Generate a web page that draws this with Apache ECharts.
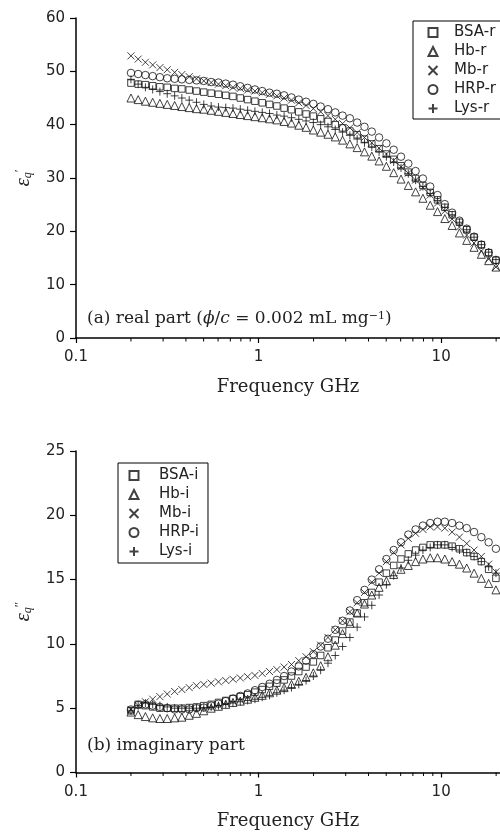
<!DOCTYPE html>
<html>
<head>
<meta charset="utf-8">
<script src="https://cdn.jsdelivr.net/npm/echarts@6/dist/echarts.min.js"></script>
<style>
  html, body { margin: 0; padding: 0; background: #fff; }
  #container { width: 500px; height: 832px; }
</style>
</head>
<body>
<div id="container"></div>
<script>
// frequencies, GHz
var freq = [0.200, 0.219, 0.240, 0.263, 0.288, 0.316, 0.347, 0.380, 0.417, 0.457,
	0.501, 0.550, 0.603, 0.661, 0.724, 0.794, 0.871, 0.955, 1.047, 1.148,
	1.259, 1.380, 1.514, 1.660, 1.820, 1.995, 2.188, 2.399, 2.630, 2.884,
	3.162, 3.467, 3.802, 4.169, 4.571, 5.012, 5.495, 6.026, 6.607, 7.244,
	7.943, 8.710, 9.550, 10.47, 11.48, 12.59, 13.80, 15.14, 16.60, 18.20,
	19.95];

// (a) real part
var bsaR = [47.8, 47.6, 47.5, 47.3, 47.1, 47.0, 46.8, 46.7, 46.5, 46.3,
	46.1, 45.9, 45.7, 45.5, 45.3, 45.0, 44.7, 44.4, 44.1, 43.8,
	43.5, 43.1, 42.8, 42.4, 42.0, 41.6, 41.1, 40.6, 40.0, 39.4,
	38.8, 38.1, 37.3, 36.4, 35.5, 34.5, 33.5, 32.3, 31.1, 29.9,
	28.6, 27.3, 25.9, 24.5, 23.1, 21.7, 20.3, 18.9, 17.5, 16.0,
	14.6];
var hbR = [45.0, 44.7, 44.4, 44.2, 44.0, 43.8, 43.6, 43.4, 43.2, 43.0,
	42.9, 42.7, 42.5, 42.3, 42.1, 41.9, 41.7, 41.5, 41.3, 41.1,
	40.9, 40.6, 40.3, 39.9, 39.5, 39.0, 38.6, 38.2, 37.7, 37.1,
	36.4, 35.7, 34.9, 34.1, 33.2, 32.2, 31.0, 29.8, 28.6, 27.4,
	26.2, 24.9, 23.7, 22.4, 21.1, 19.7, 18.3, 17.0, 15.7, 14.5,
	13.3];
var mbR = [52.9, 52.3, 51.7, 51.2, 50.7, 50.3, 49.8, 49.4, 49.0, 48.6,
	48.2, 47.9, 47.6, 47.3, 47.0, 46.8, 46.5, 46.3, 46.0, 45.7,
	45.4, 45.0, 44.6, 44.1, 43.6, 43.0, 42.4, 41.7, 41.0, 40.2,
	39.4, 38.5, 37.6, 36.6, 35.6, 34.5, 33.3, 32.1, 30.9, 29.6,
	28.2, 26.8, 25.3, 23.8, 22.3, 20.8, 19.3, 17.8, 16.3, 14.8,
	13.3];
var hrpR = [49.7, 49.5, 49.3, 49.1, 48.9, 48.7, 48.6, 48.5, 48.4, 48.3,
	48.2, 48.0, 47.9, 47.7, 47.5, 47.2, 46.9, 46.6, 46.3, 46.0,
	45.8, 45.5, 45.1, 44.7, 44.3, 43.9, 43.4, 42.9, 42.3, 41.7,
	41.2, 40.4, 39.6, 38.7, 37.6, 36.5, 35.3, 34.0, 32.7, 31.3,
	29.9, 28.4, 26.8, 25.1, 23.5, 22.0, 20.5, 19.0, 17.5, 16.0,
	14.6];
var lysR = [48.5, 47.6, 47.0, 46.6, 46.2, 45.8, 45.4, 45.0, 44.6, 44.2,
	43.8, 43.5, 43.3, 43.2, 43.1, 42.9, 42.7, 42.5, 42.3, 42.1,
	41.8, 41.6, 41.3, 41.0, 40.7, 40.4, 40.0, 39.6, 39.1, 38.6,
	38.0, 37.3, 36.6, 35.8, 34.9, 34.0, 33.0, 31.9, 30.8, 29.6,
	28.4, 27.1, 25.8, 24.5, 23.1, 21.7, 20.3, 18.9, 17.5, 16.1,
	14.7];

// (b) imaginary part
var bsaI = [4.8, 5.3, 5.2, 5.1, 5.0, 5.0, 5.0, 5.0, 5.05, 5.1,
	5.2, 5.3, 5.45, 5.6, 5.75, 5.9, 6.05, 6.25, 6.45, 6.7,
	6.95, 7.2, 7.5, 7.85, 8.2, 8.6, 9.1, 9.7, 10.3, 11.0,
	11.7, 12.4, 13.2, 14.0, 14.8, 15.5, 16.1, 16.6, 17.0, 17.3,
	17.5, 17.7, 17.7, 17.7, 17.6, 17.4, 17.1, 16.8, 16.4, 15.8,
	15.1];
var hbI = [4.7, 4.5, 4.35, 4.25, 4.2, 4.2, 4.25, 4.3, 4.45, 4.6,
	4.8, 5.0, 5.15, 5.3, 5.45, 5.55, 5.7, 5.85, 6.0, 6.2,
	6.4, 6.6, 6.85, 7.1, 7.4, 7.75, 8.3, 9.0, 9.9, 10.8,
	11.6, 12.4, 13.1, 13.8, 14.4, 14.9, 15.4, 15.8, 16.1, 16.4,
	16.6, 16.7, 16.7, 16.6, 16.4, 16.2, 15.9, 15.5, 15.1, 14.7,
	14.2];
var mbI = [4.9, 5.2, 5.5, 5.7, 5.9, 6.1, 6.3, 6.45, 6.6, 6.75,
	6.85, 6.95, 7.05, 7.15, 7.25, 7.35, 7.45, 7.55, 7.7, 7.85,
	8.0, 8.2, 8.4, 8.7, 9.0, 9.4, 9.9, 10.5, 11.1, 11.8,
	12.5, 13.2, 14.0, 14.8, 15.5, 16.4, 17.1, 17.7, 18.2, 18.6,
	18.9, 19.1, 19.1, 19.0, 18.7, 18.3, 17.8, 17.3, 16.8, 16.2,
	15.6];
var hrpI = [4.9, 5.25, 5.3, 5.2, 5.1, 5.0, 4.9, 4.9, 4.9, 5.0,
	5.05, 5.2, 5.35, 5.55, 5.75, 5.95, 6.15, 6.4, 6.65, 6.9,
	7.2, 7.5, 7.85, 8.25, 8.7, 9.2, 9.8, 10.4, 11.1, 11.8,
	12.6, 13.4, 14.2, 15.0, 15.8, 16.6, 17.3, 17.9, 18.5, 18.9,
	19.2, 19.4, 19.5, 19.5, 19.4, 19.2, 19.0, 18.7, 18.3, 17.9,
	17.4];
var lysI = [4.8, 5.2, 5.4, 5.3, 5.2, 5.1, 5.0, 5.0, 5.0, 5.0,
	5.05, 5.1, 5.2, 5.3, 5.4, 5.5, 5.6, 5.7, 5.85, 6.0,
	6.2, 6.4, 6.6, 6.85, 7.15, 7.5, 7.95, 8.5, 9.1, 9.8,
	10.5, 11.3, 12.1, 13.0, 13.8, 14.6, 15.3, 15.9, 16.5, 16.9,
	17.3, 17.5, 17.7, 17.7, 17.5, 17.3, 17.1, 16.8, 16.4, 16.0,
	15.5];

var majorTicks = [0.1, 1, 10];
var minorTicks = [0.2, 0.3, 0.4, 0.5, 0.6, 0.7, 0.8, 0.9, 2, 3, 4, 5, 6, 7, 8, 9, 20];

var realNames = ['BSA-r', 'Hb-r', 'Mb-r', 'HRP-r', 'Lys-r'];
var imagNames = ['BSA-i', 'Hb-i', 'Mb-i', 'HRP-i', 'Lys-i'];

var markers = [
	{ symbol: 'rect', size: 6.5 },
	{ symbol: 'triangle', size: 8 },
	{ symbol: 'path://M0,0L10,10M10,0L0,10', size: 7 },
	{ symbol: 'circle', size: 7.5 },
	{ symbol: 'path://M5,0L5,10M0,5L10,5', size: 8 }
];

function pairs(values) {
	return freq.map(function (f, i) { return [f, values[i]]; });
}

function makeSeries(names, sets, axisIdx) {
	return names.map(function (name, i) {
		return {
			name: name,
			type: 'scatter',
			xAxisIndex: axisIdx,
			yAxisIndex: axisIdx,
			symbol: markers[i].symbol,
			symbolSize: markers[i].size,
			itemStyle: { color: 'rgba(0,0,0,0)', borderColor: '#111', borderWidth: 1 },
			emphasis: { disabled: true },
			data: pairs(sets[i])
		};
	});
}

// short 2..9 ticks under the log axis, placed through the axis scale
function minorTickSeries(axisIdx) {
	return {
		type: 'custom',
		xAxisIndex: axisIdx,
		yAxisIndex: axisIdx,
		clip: false,
		silent: true,
		data: minorTicks.map(function (v) { return [v, 0]; }),
		renderItem: function (params, api) {
			var p = api.coord([api.value(0), 0]);
			return {
				type: 'line',
				shape: { x1: p[0], y1: p[1], x2: p[0], y2: p[1] + 3.5 },
				style: { stroke: '#000', lineWidth: 1 }
			};
		}
	};
}

var sansFont = 'DejaVu Sans';
var serifFont = 'DejaVu Serif';

function xAxis(gridIndex) {
	return {
		type: 'log', logBase: 10, gridIndex: gridIndex, min: 0.1, max: 21, interval: 1,
		position: 'bottom',
		name: 'Frequency GHz', nameLocation: 'middle', nameGap: 40,
		nameTextStyle: { fontFamily: serifFont, fontSize: 18, color: '#222' },
		axisLine: { lineStyle: { color: '#000', width: 1.5 } },
		axisTick: { inside: false, length: 5, customValues: majorTicks, lineStyle: { color: '#000', width: 1.2 } },
		axisLabel: {
			customValues: majorTicks, margin: 12, fontFamily: sansFont, fontSize: 15, color: '#222',
			formatter: function (v) {
				var r = Math.round(Math.log10(v) * 1000) / 1000;
				if (r === -1) return '0.1';
				if (r === 0) return '1';
				if (r === 1) return '10';
				return '';
			}
		},
		splitLine: { show: false }
	};
}

function yAxis(gridIndex, max, interval, name) {
	return {
		type: 'value', gridIndex: gridIndex, min: 0, max: max, interval: interval,
		name: name, nameLocation: 'middle', nameGap: 42,
		nameTextStyle: {
			color: '#222',
			rich: {
				e: { fontFamily: 'Liberation Serif', fontStyle: 'italic', fontSize: 21, color: '#222' },
				q: { fontFamily: 'Liberation Serif', fontStyle: 'italic', fontSize: 12, verticalAlign: 'bottom', color: '#222' },
				p: { fontFamily: 'Liberation Serif', fontSize: 13, verticalAlign: 'top', color: '#222' }
			}
		},
		axisLine: { show: true, lineStyle: { color: '#000', width: 1.5 } },
		axisTick: { show: true, length: 6, lineStyle: { color: '#000', width: 1.2 } },
		axisLabel: { margin: 11, fontFamily: sansFont, fontSize: 15, color: '#222' },
		splitLine: { show: false }
	};
}

function legend(names, left, top, padding, textPad) {
	return {
		data: names, orient: 'vertical', left: left, top: top,
		padding: padding, itemGap: 4, itemWidth: 9, itemHeight: 9,
		borderColor: '#000', borderWidth: 1, backgroundColor: '#fff',
		selectedMode: false,
		textStyle: { fontFamily: sansFont, fontSize: 15, lineHeight: 15, color: '#222', padding: [0, 0, 0, textPad] }
	};
}

var chart = echarts.init(document.getElementById('container'));

var option = {
	animation: false,
	backgroundColor: '#fff',
	grid: [
		{ left: 76, top: 18, right: 0, height: 320 },
		{ left: 76, top: 451, right: 0, height: 321.5 }
	],
	xAxis: [xAxis(0), xAxis(1)],
	yAxis: [
		yAxis(0, 60, 10, '{e|ε}{q|q}{p|′}'),
		yAxis(1, 25, 5, '{e|ε}{q|q}{p|″}')
	],
	legend: [
		legend(realNames, 413, 21, [4, 10, 3, 14.5], 11.5),
		legend(imagNames, 118, 463, [5, 9, 4, 10.5], 15.5)
	],
	graphic: [
		{
			type: 'text', x: 87, y: 319,
			style: {
				text: '{n|(a) real part (}{i|ϕ}{n|/}{i|c}{n| = 0.002 mL mg}{s|−1}{n|)}',
				verticalAlign: 'middle',
				rich: {
					n: { fontFamily: serifFont, fontSize: 17, fill: '#222' },
					i: { fontFamily: serifFont, fontStyle: 'italic', fontSize: 17, fill: '#222' },
					s: { fontFamily: serifFont, fontSize: 11, verticalAlign: 'top', fill: '#222' }
				}
			}
		},
		{
			type: 'text', x: 87, y: 746,
			style: {
				text: '(b) imaginary part',
				verticalAlign: 'middle',
				font: '17px "DejaVu Serif"',
				fill: '#222'
			}
		}
	],
	series: makeSeries(realNames, [bsaR, hbR, mbR, hrpR, lysR], 0)
		.concat(makeSeries(imagNames, [bsaI, hbI, mbI, hrpI, lysI], 1))
		.concat([minorTickSeries(0), minorTickSeries(1)])
};

chart.setOption(option);
</script>
</body>
</html>
